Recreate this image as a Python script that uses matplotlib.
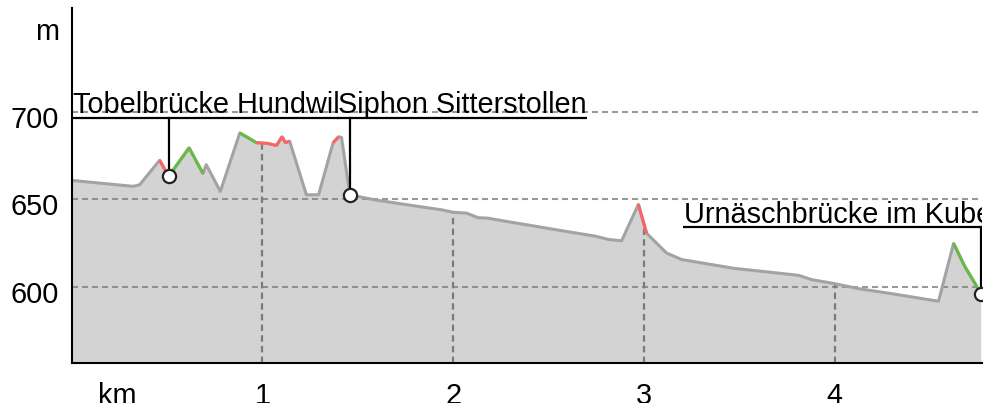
import matplotlib.pyplot as plt
import numpy as np
from matplotlib.transforms import ScaledTranslation

plt.rcParams['font.family'] = ['Liberation Sans', 'DejaVu Sans']

# elevation profile: distance along the route (km) and height (m)
dist_km = [0.0, 0.322, 0.357, 0.462, 0.509, 0.616, 0.689, 0.706, 0.780, 0.882,
           0.969, 1.030, 1.074, 1.103, 1.121, 1.143, 1.231, 1.295, 1.371, 1.400,
           1.415, 1.459, 1.502, 1.589, 1.764, 1.939, 2.000, 2.070, 2.131, 2.184,
           2.289, 2.394, 2.568, 2.743, 2.813, 2.883, 2.971, 3.014, 3.119, 3.198,
           3.477, 3.565, 3.810, 3.880, 4.002, 4.124, 4.299, 4.544, 4.623, 4.683,
           4.736, 4.765]
elev_m = [660.8, 657.4, 658.3, 672.3, 663.1, 679.4, 664.7, 669.8, 654.5, 687.9,
          682.3, 681.9, 680.7, 685.7, 682.3, 683.2, 652.6, 652.6, 682.3, 685.7,
          685.3, 652.7, 651.6, 649.7, 646.8, 644.0, 642.6, 642.1, 639.5, 639.2,
          637.2, 635.3, 632.1, 629.0, 627.1, 626.3, 647.1, 630.6, 619.3, 615.6,
          610.5, 609.5, 606.6, 604.1, 601.8, 599.0, 596.1, 591.8, 624.8, 611.4,
          601.8, 596.1]

# class of each segment between two profile points (n = plain, r = red, g = green)
seg_class = ['n', 'n', 'n', 'r', 'g', 'g', 'n', 'n', 'n', 'g',
             'r', 'r', 'r', 'r', 'r', 'n', 'n', 'n', 'r', 'n',
             'n', 'n', 'n', 'n', 'n', 'n', 'n', 'n', 'n', 'n',
             'n', 'n', 'n', 'n', 'n', 'n', 'r', 'n', 'n', 'n',
             'n', 'n', 'n', 'n', 'n', 'n', 'n', 'n', 'g', 'g',
             'g']

# points of interest
poi_names = ["Tobelbrücke Hundwil", "Siphon Sitterstollen", "Urnäschbrücke im Kubel"]
poi_idx = [4, 21, 51]

y_ticks = [600, 650, 700]
x_ticks = [1, 2, 3, 4]

# layout
label_x = [0.0, 1.391, 3.203]
label_y = [696.7, 696.7, 634.0]
ymin, ymax = 556.7, 759.2
xmin, xmax = 0.0, 4.772
seg_colors = {'r': '#ff6262', 'g': '#66bb44'}
fs = 20.8

fig = plt.figure(figsize=(9.99, 4.03), dpi=100)
ax = fig.add_axes([0.0716, 0.1, 0.9114, 0.88])

ax.fill_between(dist_km, elev_m, ymin, color='#d3d3d3', lw=0, zorder=1)
ax.plot(dist_km, elev_m, color='#a3a3a3', lw=2.2, zorder=3,
        solid_joinstyle='round', solid_capstyle='round')
for i, c in enumerate(seg_class):
    if c in seg_colors:
        ax.plot(dist_km[i:i + 2], elev_m[i:i + 2], color=seg_colors[c], lw=2.2,
                zorder=4, solid_capstyle='butt')

dash = (0, (2.9, 1.9))
for y in y_ticks:
    ax.axhline(y, color='#808080', alpha=0.8, lw=1.5, ls=dash, zorder=2)
for x in x_ticks:
    top = np.interp(x, dist_km, elev_m)
    ax.plot([x, x], [ymin, top], color='#7a7a7a', lw=1.6, ls=dash, zorder=2)

ax.set_xlim(xmin, xmax)
ax.set_ylim(ymin, ymax)

# labels with underline and leader line
texts = []
for name, lx, ly in zip(poi_names, label_x, label_y):
    t = ax.text(lx + 0.006, ly + 2.5, name, fontsize=fs, ha='left', va='baseline',
                clip_on=True, zorder=6)
    texts.append(t)
fig.canvas.draw()
inv = ax.transData.inverted()
for t, lx, ly, k in zip(texts, label_x, label_y, poi_idx):
    bb = t.get_window_extent()
    x1 = inv.transform((bb.x1, bb.y0))[0]
    ax.plot([lx, x1], [ly, ly], color='black', lw=1.6, zorder=6, solid_capstyle='butt')
    ax.plot([dist_km[k], dist_km[k]], [ly, elev_m[k]], color='black', lw=1.6, zorder=6)
    ax.plot(dist_km[k], elev_m[k], 'o', ms=9.5, mfc='white', mec='#222222',
            mew=1.6, zorder=7)

ax.spines['top'].set_visible(False)
ax.spines['right'].set_visible(False)
for s in ('left', 'bottom'):
    ax.spines[s].set_linewidth(1.5)
    ax.spines[s].set_zorder(8)

ax.set_yticks(y_ticks + [750])
ax.set_yticklabels([str(v) for v in y_ticks] + ['m'])
ax.set_xticks([0.24] + x_ticks)
ax.set_xticklabels(['km'] + [str(v) for v in x_ticks])
ax.tick_params(axis='both', length=0, labelsize=fs)
ax.tick_params(axis='y', pad=9)
ax.tick_params(axis='x', pad=14)
shift = ScaledTranslation(0, -0.05, fig.dpi_scale_trans)
for lab in ax.get_yticklabels():
    lab.set_transform(lab.get_transform() + shift)

fig.savefig('out.png', dpi=100)
